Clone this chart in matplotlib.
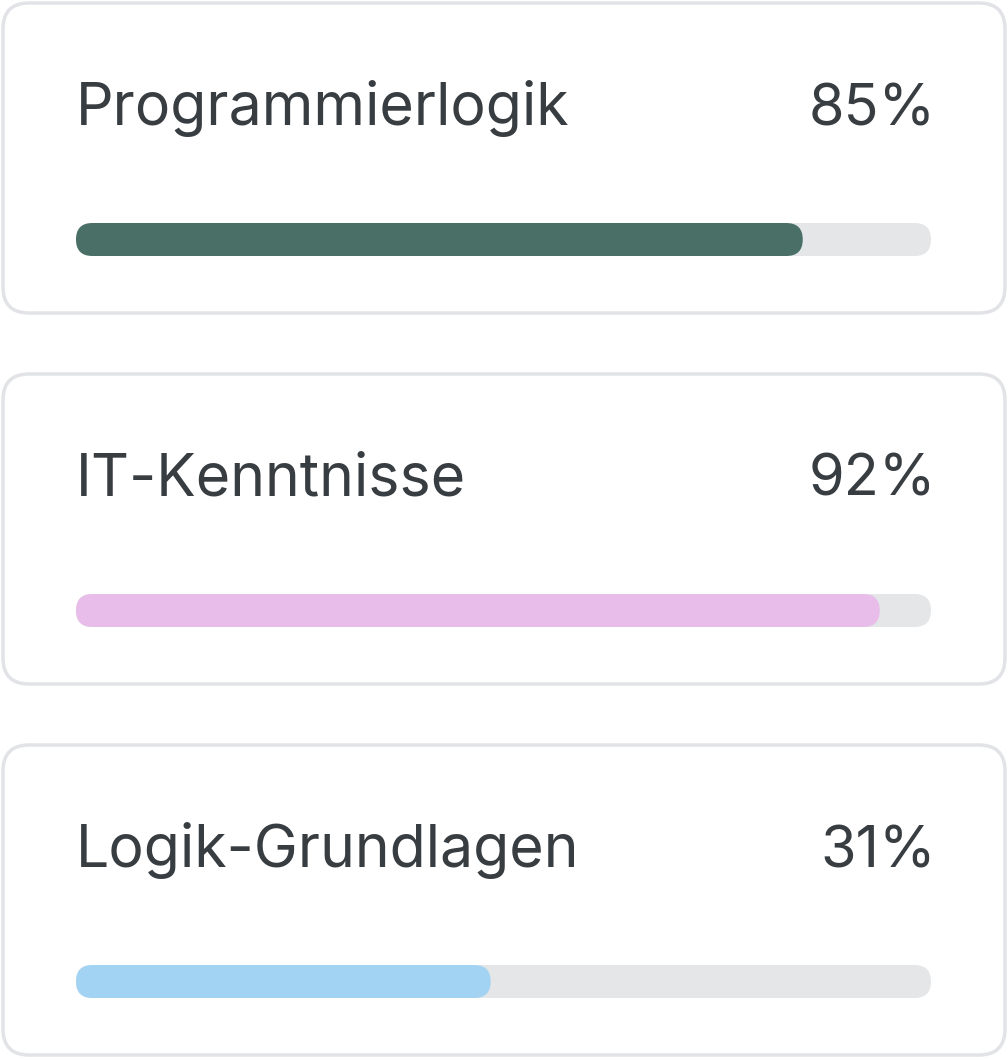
import matplotlib.pyplot as plt
from matplotlib.patches import FancyBboxPatch

# skill data
skills = ["Programmierlogik", "IT-Kenntnisse", "Logik-Grundlagen"]
pct_labels = ["85%", "92%", "31%"]
bar_fill = [85, 94, 48.5]  # filled share of the track as drawn (%)
colors = ["#4a6f66", "#e8bde9", "#a3d3f2"]

plt.rcParams["font.family"] = ["Inter", "DejaVu Sans"]

fig = plt.figure(figsize=(10.08, 10.60), dpi=100)
ax = fig.add_axes([0, 0, 1, 1])
ax.set_xlim(0, 1008)
ax.set_ylim(1060, 0)
ax.axis("off")

card_top = [3, 374, 745]
card_h = 310
track_x, track_w, bar_h = 76, 855, 33

for i, name in enumerate(skills):
    top = card_top[i]
    # card outline
    ax.add_patch(FancyBboxPatch((3, top), 1002, card_h,
                                boxstyle="round,pad=0,rounding_size=26",
                                facecolor="white", edgecolor="#e1e3e7", lw=2.5))
    # labels
    ax.text(track_x, top + 122, name, fontsize=42.5, color="#383d42",
            ha="left", va="baseline")
    ax.text(track_x + track_w + 5, top + 122, pct_labels[i], fontsize=41.5,
            color="#383d42", ha="right", va="baseline")
    # progress track + fill
    by = top + 220
    ax.add_patch(FancyBboxPatch((track_x, by), track_w, bar_h,
                                boxstyle="round,pad=0,rounding_size=16.5",
                                facecolor="#e4e6e8", edgecolor="none"))
    ax.add_patch(FancyBboxPatch((track_x, by), track_w * bar_fill[i] / 100, bar_h,
                                boxstyle="round,pad=0,rounding_size=16.5",
                                facecolor=colors[i], edgecolor="none"))

fig.savefig("out.png", dpi=100)
